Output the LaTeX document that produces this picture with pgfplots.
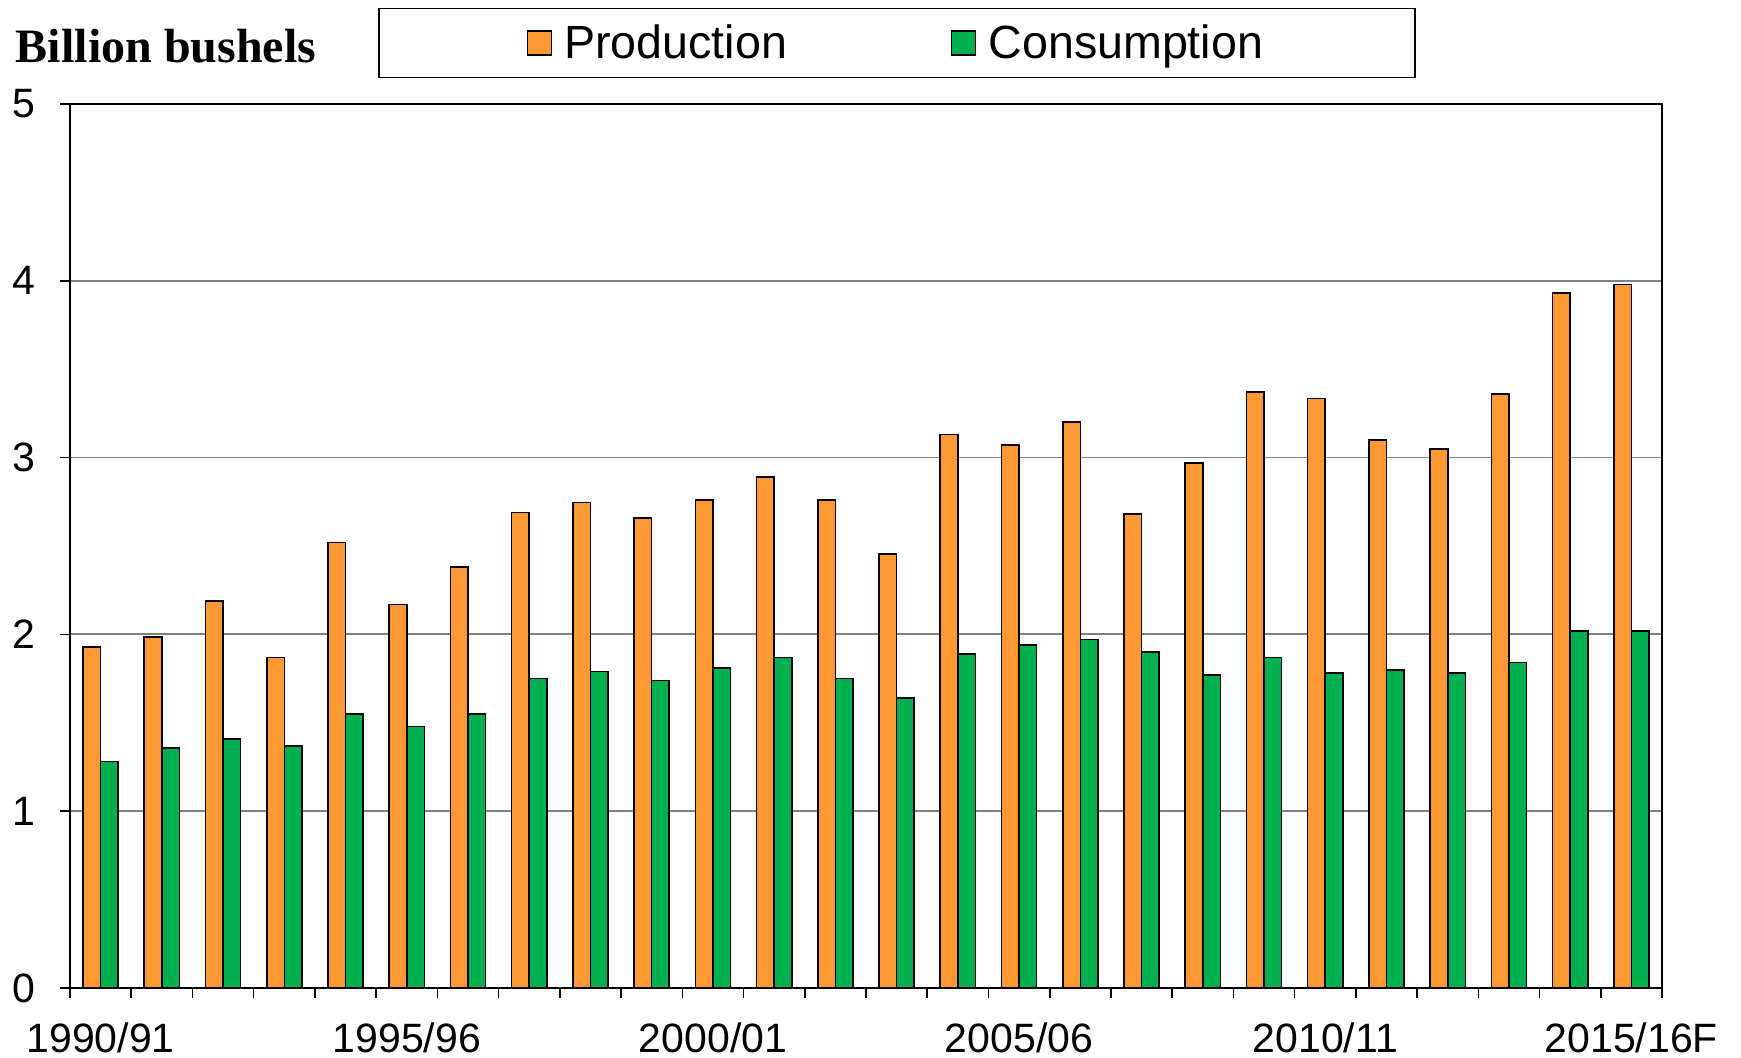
\documentclass[border=0pt]{standalone}
\usepackage{pgfplots}
\pgfplotsset{compat=1.18}
\usepackage{fontspec}
\setmainfont{Liberation Sans}
\newfontfamily\titlefont{Liberation Serif}
\definecolor{prodc}{HTML}{FF9933}
\definecolor{consc}{HTML}{00B050}
\begin{document}
\begin{tikzpicture}
\begin{axis}[
  name=ax,
  scale only axis,
  width=796pt, height=442pt,
  xmin=-0.5, xmax=25.5,
  ymin=0, ymax=5,
  ytick={0,1,2,3,4,5},
  ymajorgrids,
  grid style={draw=black!50, line width=0.9pt},
  axis line style={line width=1pt},
  tick style={line width=0.8pt, black},
  tick align=outside,
  xtick pos=bottom, ytick pos=left,
  major tick length=5pt,
  xtick={-0.5,0.5,...,25.5},
  xticklabels={},
  extra x ticks={0,5,10,15,20,25},
  extra x tick labels={1990/91,1995/96,2000/01,2005/06,2010/11,2015/16F},
  extra x tick style={major tick length=0pt, grid=none,
    xticklabel style={anchor=north, inner sep=0pt, yshift=-17pt}},
  yticklabel style={anchor=east, inner sep=0pt, xshift=-12pt},
  ticklabel style={font=\fontsize{20.5}{24}\selectfont},
  /pgf/number format/assume math mode=true,
  ybar=0pt,
  bar width=8.8pt,
  legend style={at={(0.5195,1.069)}, anchor=center, draw=black, line width=0.8pt,
    legend columns=2, font=\fontsize{23.3}{26}\selectfont,
    inner xsep=74pt, inner ysep=6pt,
    /tikz/every even column/.append style={column sep=80pt}},
  legend image code/.code={\draw[#1, line width=0.6pt] (0pt,-6pt) rectangle (12pt,6pt); \path (16pt,0pt);},
  clip=false,
]
\addplot[fill=prodc, draw=black, line width=0.8pt] coordinates {
(0,1.93) (1,1.985) (2,2.19) (3,1.87) (4,2.52) (5,2.17) (6,2.38) (7,2.69) (8,2.745) (9,2.66)
(10,2.76) (11,2.89) (12,2.76) (13,2.455) (14,3.13) (15,3.07) (16,3.20) (17,2.68) (18,2.97) (19,3.37)
(20,3.335) (21,3.10) (22,3.05) (23,3.36) (24,3.93) (25,3.98)};
\addplot[fill=consc, draw=black, line width=0.8pt] coordinates {
(0,1.28) (1,1.357) (2,1.41) (3,1.37) (4,1.55) (5,1.48) (6,1.55) (7,1.75) (8,1.79) (9,1.74)
(10,1.81) (11,1.87) (12,1.75) (13,1.64) (14,1.89) (15,1.94) (16,1.97) (17,1.90) (18,1.77) (19,1.87)
(20,1.78) (21,1.80) (22,1.78) (23,1.84) (24,2.02) (25,2.02)};
\legend{Production,Consumption}
\node[anchor=base west, inner sep=0pt, font=\titlefont\bfseries\fontsize{24}{28}\selectfont]
  at (rel axis cs:-0.0342,1.0475) {Billion bushels};
\end{axis}
\path[use as bounding box] ([xshift=-35pt,yshift=-35pt]ax.south west) rectangle ([xshift=39.5pt,yshift=52pt]ax.north east);
\end{tikzpicture}
\end{document}
